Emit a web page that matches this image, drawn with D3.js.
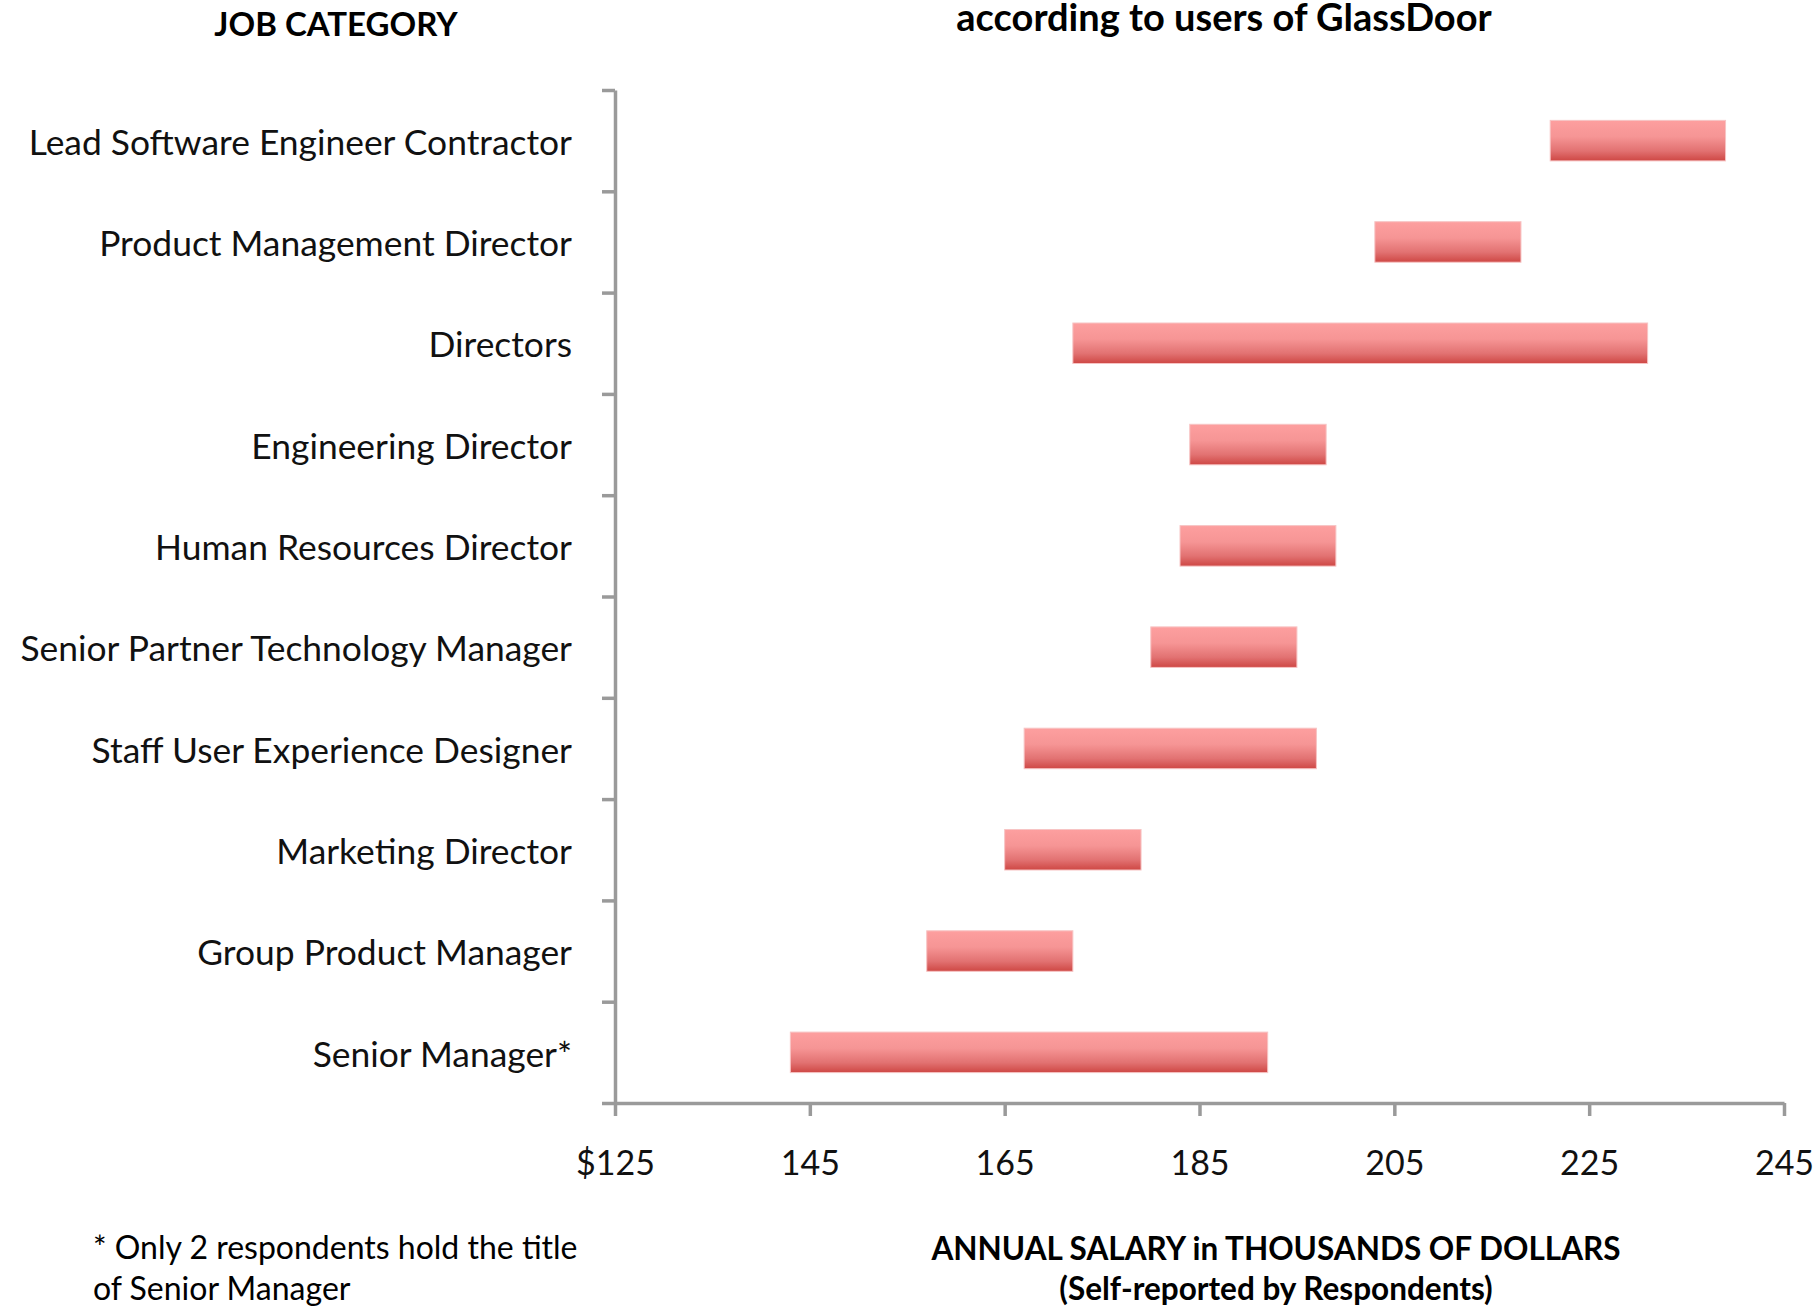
<!DOCTYPE html>
<html>
<head>
<meta charset="utf-8">
<script src="https://cdn.jsdelivr.net/npm/d3@7"></script>
<style>
  body { margin: 0; background: #fff; }
  svg { display: block; font-family: Lato, "Open Sans", sans-serif; }
  .axis path, .axis line { stroke: #9a9a9a; stroke-width: 3.5; }
  .tick text { fill: #111; }
</style>
</head>
<body>
<svg></svg>
<script>
// salary ranges, thousands of dollars
var categories = [
  "Lead Software Engineer Contractor",
  "Product Management Director",
  "Directors",
  "Engineering Director",
  "Human Resources Director",
  "Senior Partner Technology Manager",
  "Staff User Experience Designer",
  "Marketing Director",
  "Group Product Manager",
  "Senior Manager*"
];
var lowValues  = [221, 203, 172, 184, 183, 180, 167, 165, 157, 143];
var highValues = [239, 218, 231, 198, 199, 195, 197, 179, 172, 192];
var xTicks = [125, 145, 165, 185, 205, 225, 245];

var rows = categories.map(function(c, i) {
  return {name: c, lo: lowValues[i], hi: highValues[i]};
});

var W = 1819, H = 1306;
var svg = d3.select("svg").attr("width", W).attr("height", H);

var x = d3.scaleLinear().domain([125, 245]).range([615, 1784]);
var y = d3.scaleBand().domain(categories).range([90, 1103]);
// band edges for the category ticks
var yEdge = d3.scaleLinear().domain([0, categories.length]).range([90, 1103]);

var defs = svg.append("defs");
var grad = defs.append("linearGradient")
    .attr("id", "barGrad")
    .attr("x1", 0).attr("y1", 0).attr("x2", 0).attr("y2", 1);
grad.append("stop").attr("offset", "0%").attr("stop-color", "#fd9f9f");
grad.append("stop").attr("offset", "40%").attr("stop-color", "#f69595");
grad.append("stop").attr("offset", "75%").attr("stop-color", "#e27272");
grad.append("stop").attr("offset", "100%").attr("stop-color", "#ce4744");

var barH = y.bandwidth() * 0.4;

svg.append("g").selectAll("rect")
    .data(rows)
    .enter().append("rect")
    .attr("x", function(d) { return x(d.lo); })
    .attr("width", function(d) { return x(d.hi) - x(d.lo); })
    .attr("y", function(d) { return y(d.name) + (y.bandwidth() - barH) / 2; })
    .attr("height", barH)
    .attr("fill", "url(#barGrad)")
    .attr("stroke", "#f7c4c4")
    .attr("stroke-width", 1);

// y axis: boundary ticks
svg.append("g")
    .attr("class", "axis")
    .attr("transform", "translate(615,0)")
    .call(d3.axisLeft(yEdge).tickValues(d3.range(categories.length + 1)).tickSize(13).tickSizeOuter(0).tickFormat(""));

// category labels
var yl = svg.append("g")
    .attr("transform", "translate(615,0)")
    .call(d3.axisLeft(y).tickSize(0).tickPadding(43));
yl.attr("font-family", null).attr("font-size", null);
yl.select(".domain").remove();
yl.selectAll("text").attr("font-size", 35.4).attr("dy", "0.4em");

// x axis
var xa = svg.append("g")
    .attr("class", "axis")
    .attr("transform", "translate(0,1103)")
    .call(d3.axisBottom(x).tickValues(xTicks).tickSize(13).tickSizeOuter(0).tickPadding(35)
      .tickFormat(function(d) { return d === 125 ? "$" + d : d; }));
xa.attr("font-family", null).attr("font-size", null);
xa.selectAll("text").attr("font-size", 34);

// titles and notes
svg.append("text")
    .attr("x", 1224).attr("y", 31)
    .attr("text-anchor", "middle")
    .attr("font-size", 38).attr("font-weight", "bold")
    .text("according to users of GlassDoor");

svg.append("text")
    .attr("x", 336).attr("y", 36)
    .attr("text-anchor", "middle")
    .attr("font-size", 33).attr("font-weight", "bold")
    .text("JOB CATEGORY");

var at = svg.append("text")
    .attr("text-anchor", "middle")
    .attr("font-size", 31.5).attr("font-weight", "bold");
at.append("tspan").attr("x", 1276).attr("y", 1260).text("ANNUAL SALARY in THOUSANDS OF DOLLARS");
at.append("tspan").attr("x", 1276).attr("y", 1300).text("(Self-reported by Respondents)");

var fn = svg.append("text")
    .attr("font-size", 32);
fn.append("tspan").attr("x", 93).attr("y", 1259).text("* Only 2 respondents hold the title");
fn.append("tspan").attr("x", 93).attr("y", 1300).text("of Senior Manager");
</script>
</body>
</html>
